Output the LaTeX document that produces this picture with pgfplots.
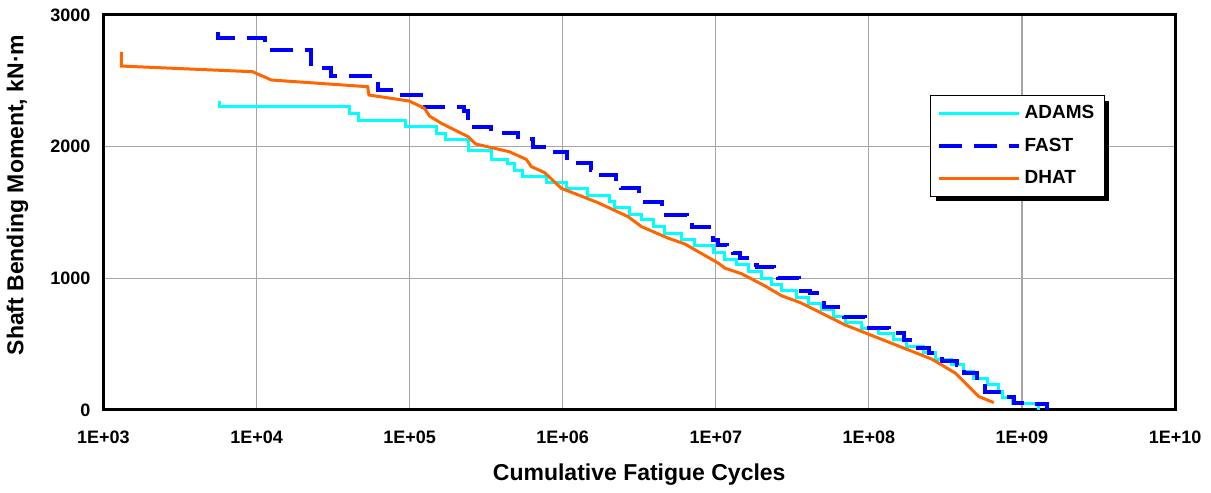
\documentclass[border=0pt]{standalone}
\usepackage{fontspec}
\setmainfont{Liberation Sans}
\usepackage{pgfplots}
\pgfplotsset{compat=1.18}
\usetikzlibrary{shadows}

\definecolor{adams}{RGB}{0,255,255}
\definecolor{fast}{RGB}{0,0,255}
\definecolor{dhat}{RGB}{255,102,0}

% step curves: level holds from x until the next x
\pgfplotstableread{
x y
5.69e3 2349
5.69e3 2303
4.03e4 2248
4.61e4 2202
9.33e4 2151
1.50e5 2101
1.71e5 2055
2.44e5 1967
3.41e5 1905
4.39e5 1873
4.84e5 1822
5.50e5 1771
7.81e5 1726
1.06e6 1683
1.45e6 1632
2.03e6 1582
2.19e6 1536
2.72e6 1486
3.27e6 1443
3.90e6 1392
4.64e6 1341
5.97e6 1296
7.30e6 1245
9.63e6 1194
1.14e7 1144
1.37e7 1101
1.63e7 1050
2.00e7 1000
2.32e7 949
2.70e7 906
3.38e7 856
4.03e7 805
4.87e7 759
5.87e7 708
7.00e7 663
9.00e7 620
1.16e8 582
1.45e8 532
1.77e8 481
2.28e8 435
2.72e8 385
3.49e8 342
4.17e8 291
4.84e8 241
5.92e8 190
7.06e8 139
7.42e8 96
8.63e8 46
1.29e9 0
}\adams

\pgfplotstableread{
x y
5.60e3 2873
5.60e3 2827
1.14e4 2733
2.28e4 2600
3.06e4 2536
6.21e4 2430
7.91e4 2392
1.22e5 2298
2.26e5 2268
2.40e5 2197
2.65e5 2151
3.41e5 2131
3.77e5 2106
5.12e5 2055
6.39e5 2000
8.51e5 1961
1.06e6 1911
1.17e6 1873
1.54e6 1822
1.70e6 1784
2.24e6 1734
2.42e6 1683
3.17e6 1632
3.44e6 1582
4.42e6 1544
4.76e6 1481
6.44e6 1443
6.95e6 1392
8.98e6 1341
9.63e6 1291
1.04e7 1253
1.19e7 1220
1.29e7 1190
1.43e7 1152
1.76e7 1101
1.85e7 1088
2.41e7 1040
2.54e7 1000
3.47e7 906
4.11e7 886
4.80e7 815
5.08e7 780
6.83e7 708
9.46e7 625
1.35e8 582
1.69e8 532
1.96e8 494
2.10e8 468
2.46e8 430
3.01e8 374
3.77e8 342
4.17e8 279
5.09e8 215
5.77e8 139
7.42e8 96
8.89e8 51
1.13e9 46
1.46e9 0
}\fast

\pgfplotstableread{
x y
1.31e3 2720
1.31e3 2612
9.40e3 2569
1.25e4 2506
5.32e4 2455
5.42e4 2392
9.95e4 2346
1.25e5 2291
1.35e5 2232
1.61e5 2177
2.41e5 2075
2.70e5 2020
4.48e5 1961
5.78e5 1903
6.24e5 1848
7.62e5 1802
9.80e5 1683
1.70e6 1574
2.67e6 1468
3.27e6 1392
4.89e6 1304
6.28e6 1260
1.04e7 1114
1.15e7 1076
1.48e7 1033
2.09e7 942
2.70e7 866
3.56e7 815
4.46e7 759
7.00e7 645
1.16e8 544
2.58e8 385
3.67e8 279
5.22e8 101
6.55e8 55
}\dhat

\begin{document}
\begin{tikzpicture}
\begin{axis}[
  scale only axis, width=536pt, height=197.5pt,
  xmode=log, xmin=1e3, xmax=1e10, ymin=0, ymax=3000,
  xtick={1e3,1e4,1e5,1e6,1e7,1e8,1e9,1e10},
  xticklabels={1E+03,1E+04,1E+05,1E+06,1E+07,1E+08,1E+09,1E+10},
  ytick={0,1000,2000,3000}, yticklabels={0,1000,2000,3000},
  xminorticks=false,
  grid=major, major grid style={black!35, line width=0.6pt},
  major tick length=0pt,
  axis line style={black, line width=1.5pt},
  tick label style={font=\bfseries\fontsize{9}{10}\selectfont},
  xticklabel style={yshift=-7pt},
  yticklabel style={xshift=-3pt},
  xlabel={Cumulative Fatigue Cycles},
  ylabel={Shaft Bending Moment, kN·m},
  label style={font=\bfseries\fontsize{11.5}{13}\selectfont},
  xlabel style={at={(axis description cs:0.5,-0.165)}, anchor=center},
  ylabel style={at={(axis description cs:-0.0803,0.544)}, anchor=center},
  legend style={at={(0.7715,0.797)}, anchor=north west, draw=black,
    line width=0.5pt, fill=white,
    drop shadow={shadow xshift=2.5pt, shadow yshift=-2.5pt, fill=black, opacity=1},
    font=\bfseries\fontsize{9.5}{11}\selectfont,
    inner xsep=3pt, inner ysep=3pt, row sep=4pt},
  legend cell align=left,
  legend image code/.code={%
    \begin{scope}[#1]
      \pgfpathmoveto{\pgfpoint{0pt}{0pt}}%
      \pgfpathlineto{\pgfpoint{40pt}{0pt}}%
      \pgfusepath{stroke}%
    \end{scope}},
]
\addplot[const plot, color=adams, line width=1.5pt] table {\adams};
\addlegendentry{ADAMS}
\addplot[const plot, color=fast, line width=2pt, dash pattern=on 11.5pt off 6pt] table {\fast};
\addlegendentry{FAST}
\addplot[color=dhat, line width=1.5pt] table {\dhat};
\addlegendentry{DHAT}
\end{axis}
\path (current axis.south west) ++(-51.5pt,-39.5pt) coordinate (bl);
\path (current axis.north east) ++(18pt,7.5pt) coordinate (tr);
\path (bl) rectangle (tr);
\end{tikzpicture}
\end{document}
